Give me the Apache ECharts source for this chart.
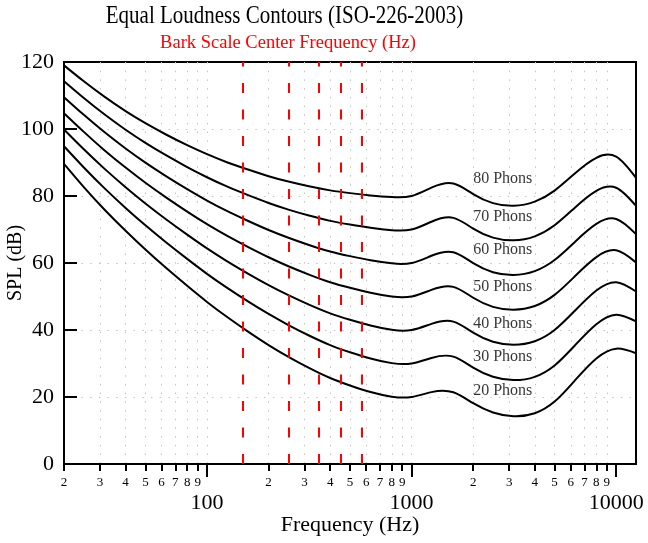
<!DOCTYPE html>
<html>
<head>
<meta charset="utf-8">
<script src="https://cdn.jsdelivr.net/npm/echarts@6/dist/echarts.min.js"></script>
<style>
  html, body { margin: 0; padding: 0; background: #fff; }
  #chart { width: 648px; height: 543px; }
</style>
</head>
<body>
<div id="chart"></div>
<script>
// ISO 226:2003 one-third octave frequencies (Hz)
const freqs = [20, 25, 31.5, 40, 50, 63, 80, 100, 125, 160, 200, 250, 315, 400, 500, 630, 800,
  1000, 1250, 1600, 2000, 2500, 3150, 4000, 5000, 6300, 8000, 10000, 12500];

// SPL (dB) of each contour
const phon20 = [89.58, 82.65, 75.98, 69.62, 64.02, 58.55, 53.19, 48.38, 43.94, 39.37, 35.51, 31.99, 28.69, 25.67, 23.43, 21.48, 20.10,
  20.0, 21.46, 21.40, 18.15, 15.38, 14.26, 15.14, 18.64, 25.02, 31.52, 34.43, 33.05];
const phon30 = [94.85, 88.52, 82.36, 76.45, 71.26, 66.20, 61.22, 56.76, 52.64, 48.38, 44.78, 41.47, 38.36, 35.50, 33.37, 31.49, 30.11,
  30.0, 31.65, 32.04, 28.76, 26.03, 25.04, 26.02, 29.42, 35.48, 41.74, 44.57, 42.55];
const phon40 = [99.85, 93.94, 88.17, 82.63, 77.78, 73.08, 68.48, 64.37, 60.59, 56.70, 53.41, 50.40, 47.58, 44.98, 43.05, 41.34, 40.06,
  40.0, 41.82, 42.51, 39.23, 36.51, 35.61, 36.65, 40.01, 45.83, 51.80, 54.28, 51.49];
const phon50 = [104.72, 99.14, 93.69, 88.49, 83.96, 79.61, 75.36, 71.61, 68.17, 64.68, 61.72, 59.04, 56.55, 54.27, 52.59, 51.10, 49.98,
  50.0, 51.99, 52.88, 49.62, 46.91, 46.05, 47.15, 50.48, 56.11, 61.76, 63.78, 60.14];
const phon60 = [109.51, 104.23, 99.08, 94.18, 89.96, 85.94, 82.05, 78.65, 75.56, 72.47, 69.86, 67.54, 65.39, 63.45, 62.05, 60.81, 59.89,
  60.0, 62.15, 63.19, 59.96, 57.26, 56.42, 57.57, 60.89, 66.36, 71.66, 73.15, 68.63];
const phon70 = [114.26, 109.25, 104.38, 99.78, 95.87, 92.18, 88.64, 85.60, 82.85, 80.17, 77.92, 75.94, 74.16, 72.58, 71.47, 70.50, 69.78,
  70.0, 72.32, 73.47, 70.28, 67.58, 66.76, 67.95, 71.26, 76.59, 81.54, 82.46, 77.04];
const phon80 = [118.99, 114.23, 109.65, 105.34, 101.72, 98.36, 95.17, 92.48, 90.09, 87.82, 85.92, 84.31, 82.89, 81.68, 80.86, 80.17, 79.67,
  80.0, 82.48, 83.74, 80.59, 77.88, 77.07, 78.31, 81.62, 86.81, 91.41, 91.74, 85.41];

const contours = [phon20, phon30, phon40, phon50, phon60, phon70, phon80];
const phonLevels = [20, 30, 40, 50, 60, 70, 80];
// where the "xx Phons" text sits (Hz, dB)
const labelFreq = 2000;
const labelLevels = [21.9, 31.9, 42.0, 53.0, 63.9, 73.8, 85.0];

// Bark scale center frequencies drawn as red dashed lines
const barkFreqs = [150, 250, 350, 450, 570];

// axis ticks
const xMinorTicks = [20, 30, 40, 50, 60, 70, 80, 90,
  200, 300, 400, 500, 600, 700, 800, 900,
  2000, 3000, 4000, 5000, 6000, 7000, 8000, 9000];
const xMajorTicks = [100, 1000, 10000];
const xAllTicks = xMinorTicks.concat(xMajorTicks).sort((a, b) => a - b);

const font = "'Liberation Serif', 'Times New Roman', serif";
const chart = echarts.init(document.getElementById('chart'));

// natural cubic spline through pixel points, returned as svg path (bezier segments)
function splinePath(pts) {
  const n = pts.length;
  const h = [], M = new Array(n).fill(0);
  for (let i = 0; i < n - 1; i++) h.push(pts[i + 1][0] - pts[i][0]);
  // tridiagonal system for second derivatives (natural ends)
  const a = [], b = [], c = [], r = [];
  for (let i = 1; i < n - 1; i++) {
    a.push(h[i - 1]);
    b.push(2 * (h[i - 1] + h[i]));
    c.push(h[i]);
    r.push(6 * ((pts[i + 1][1] - pts[i][1]) / h[i] - (pts[i][1] - pts[i - 1][1]) / h[i - 1]));
  }
  const m = b.length;
  for (let i = 1; i < m; i++) {
    const w = a[i] / b[i - 1];
    b[i] -= w * c[i - 1];
    r[i] -= w * r[i - 1];
  }
  const sol = new Array(m);
  sol[m - 1] = r[m - 1] / b[m - 1];
  for (let i = m - 2; i >= 0; i--) sol[i] = (r[i] - c[i] * sol[i + 1]) / b[i];
  for (let i = 0; i < m; i++) M[i + 1] = sol[i];

  let d = 'M' + pts[0][0] + ' ' + pts[0][1];
  for (let i = 0; i < n - 1; i++) {
    const hi = h[i];
    const s = (pts[i + 1][1] - pts[i][1]) / hi;
    const d0 = s - hi * (2 * M[i] + M[i + 1]) / 6;
    const d1 = s + hi * (M[i] + 2 * M[i + 1]) / 6;
    d += ' C' + (pts[i][0] + hi / 3) + ' ' + (pts[i][1] + d0 * hi / 3) +
      ' ' + (pts[i + 1][0] - hi / 3) + ' ' + (pts[i + 1][1] - d1 * hi / 3) +
      ' ' + pts[i + 1][0] + ' ' + pts[i + 1][1];
  }
  return d;
}

const curveSeries = contours.map((vals, i) => ({
  name: phonLevels[i] + ' Phons',
  type: 'custom',
  coordinateSystem: 'cartesian2d',
  xAxisIndex: 0,
  data: freqs.map((f, j) => [f, vals[j]]),
  encode: { x: 0, y: 1 },
  renderItem: (params, api) => {
    if (params.dataIndex !== 0) return null;
    const pts = freqs.map((f, j) => api.coord([f, vals[j]]));
    return {
      type: 'path',
      shape: { pathData: splinePath(pts) },
      style: { fill: 'none', stroke: '#000', lineWidth: 2 }
    };
  },
  z: 3
}));

chart.setOption({
  animation: false,
  textStyle: { fontFamily: font },
  graphic: [
    {
      type: 'text', x: 284.5, y: 16, scaleX: 0.84,
      style: {
        text: 'Equal Loudness Contours (ISO-226-2003)',
        font: '25px ' + font, fill: '#000',
        align: 'center', verticalAlign: 'middle'
      }
    },
    {
      type: 'text', x: 288, y: 43,
      style: {
        text: 'Bark Scale Center Frequency (Hz)',
        font: '18.5px ' + font, fill: '#ff0000',
        align: 'center', verticalAlign: 'middle'
      }
    }
  ],
  grid: {
    left: 64, right: 12, top: 62, bottom: 79,
    show: true, borderColor: '#000', borderWidth: 2,
    outerBoundsMode: 'none'
  },
  xAxis: [
    {
      type: 'log', logBase: 10, min: 20, max: 12500,
      position: 'bottom',
      name: 'Frequency (Hz)', nameLocation: 'middle', nameGap: 50, nameMoveOverlap: false,
      nameTextStyle: { fontFamily: font, fontSize: 22, color: '#000' },
      axisLine: { lineStyle: { color: '#000', width: 2 } },
      axisTick: { customValues: xAllTicks, length: 7, lineStyle: { color: '#000', width: 2 } },
      axisLabel: {
        customValues: xMinorTicks, margin: 12,
        fontFamily: font, fontSize: 13, color: '#000',
        formatter: v => String(v).charAt(0)
      },
      splitLine: {
        show: true, showMinLine: false, showMaxLine: false,
        lineStyle: { color: '#c4c4c4', width: 1, type: [1.5, 7.2] }
      }
    },
    {
      type: 'log', logBase: 10, min: 20, max: 12500,
      position: 'bottom',
      axisLine: { show: false },
      axisTick: { customValues: xMajorTicks, length: 13, lineStyle: { color: '#000', width: 2 } },
      axisLabel: {
        customValues: xMajorTicks, margin: 28,
        fontFamily: font, fontSize: 22, color: '#000',
        formatter: v => String(v)
      },
      splitLine: { show: false }
    }
  ],
  yAxis: {
    type: 'value', min: 0, max: 120, interval: 20,
    name: 'SPL (dB)', nameLocation: 'middle', nameGap: 38, nameMoveOverlap: false,
    nameTextStyle: { fontFamily: font, fontSize: 20, color: '#000' },
    axisLine: { show: true, lineStyle: { color: '#000', width: 2 } },
    axisTick: { show: true, inside: true, length: 13, lineStyle: { color: '#000', width: 2 } },
    axisLabel: { margin: 10, fontFamily: font, fontSize: 22, color: '#000' },
    splitLine: {
      show: true, showMinLine: false, showMaxLine: false,
      lineStyle: { color: '#c4c4c4', width: 1, type: [1.5, 7.2] }
    }
  },
  series: curveSeries.concat([{
    type: 'scatter',
    xAxisIndex: 0,
    symbolSize: 0,
    silent: true,
    data: phonLevels.map((p, i) => [labelFreq, labelLevels[i], p + ' Phons']),
    label: {
      show: true, position: 'right', distance: 0,
      formatter: p => p.data[2],
      fontFamily: font, fontSize: 16, color: '#000'
    },
    markLine: {
      silent: true,
      symbol: ['none', 'none'],
      label: { show: false },
      lineStyle: { color: '#ff0000', width: 2, type: [10, 16.5] },
      data: barkFreqs.map(f => ({ xAxis: f }))
    },
    z: 4
  }])
});
</script>
</body>
</html>
